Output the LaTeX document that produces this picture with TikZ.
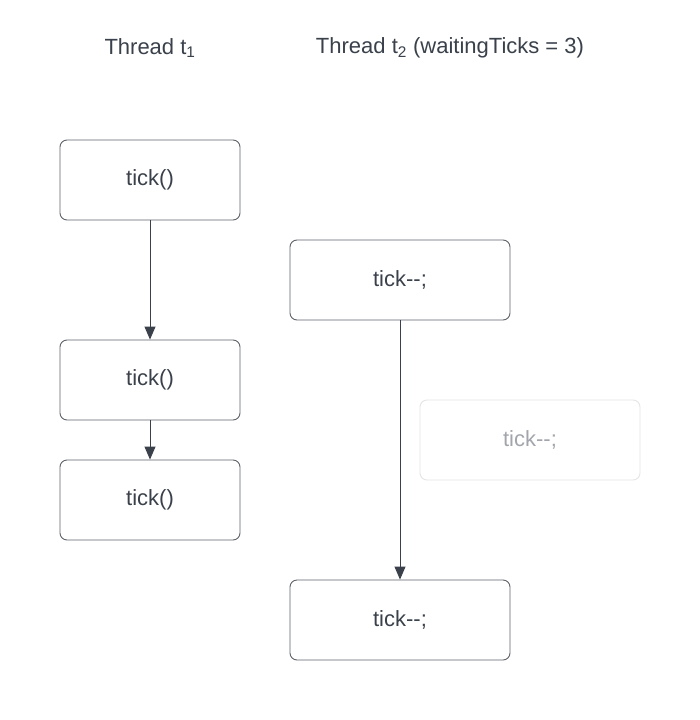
\documentclass[tikz,border=0pt]{standalone}
\usepackage{fontspec}
\setmainfont{Liberation Sans}
\usetikzlibrary{arrows.meta}
\definecolor{txt}{HTML}{3A414A}
\definecolor{edge}{HTML}{5E6269}
\definecolor{fadeedge}{HTML}{E4E5E7}
\definecolor{fadetxt}{HTML}{A2A6AC}
\tikzset{
  box/.style={draw=edge, line width=0.9pt, rounded corners=7pt, minimum width=180pt, minimum height=80pt, inner sep=0pt, text=txt, font=\fontsize{22}{26}\selectfont, fill=white},
  widebox/.style={box, minimum width=220pt},
  fadebox/.style={widebox, draw=fadeedge, text=fadetxt},
  conn/.style={draw=txt, line width=0.9pt, -{Triangle[length=13pt,width=11pt]}},
  head/.style={text=txt, font=\fontsize{22}{26}\selectfont, inner sep=0pt}
}
\begin{document}
\begin{tikzpicture}[x=1pt,y=-1pt]
\useasboundingbox[fill=white] (0,0) rectangle (700,720);
\node[head] (h1) at (150,48) {Thread t\textsubscript{1}};
\node[head] (h2) at (450,48) {Thread t\textsubscript{2} (waitingTicks = 3)};
\node[box] (a1) at (150,180) {tick()};
\node[box] (a2) at (150,380) {tick()};
\node[box] (a3) at (150,500) {tick()};
\node[widebox] (b1) at (400,280) {tick-{}-;};
\node[fadebox] (b2) at (530,440) {tick-{}-;};
\node[widebox] (b3) at (400,620) {tick-{}-;};
\draw[conn] (a1) -- (a2);
\draw[conn] (a2) -- (a3);
\draw[conn] (b1) -- (b3);
\end{tikzpicture}
\end{document}
